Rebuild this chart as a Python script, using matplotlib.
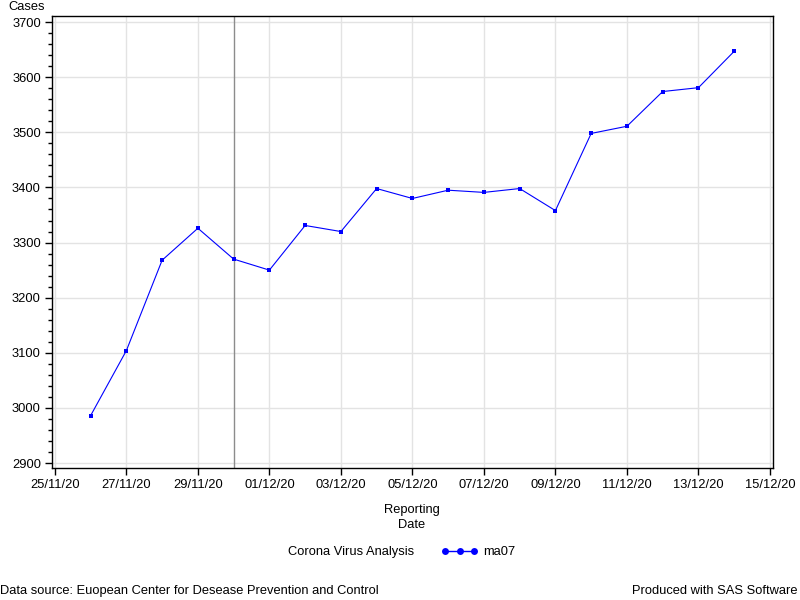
"""
Corona virus 7-day moving average chart (SAS style)
"""
import datetime as dt
import matplotlib
matplotlib.use('Agg')
import matplotlib.pyplot as plt
import matplotlib.dates as mdates
from matplotlib.lines import Line2D
from matplotlib.ticker import MultipleLocator

plt.rcParams['font.family'] = ['Liberation Sans', 'DejaVu Sans']
FS = 9.3

# Data
report_dates = ['26/11/20', '27/11/20', '28/11/20', '29/11/20', '30/11/20',
                '01/12/20', '02/12/20', '03/12/20', '04/12/20', '05/12/20',
                '06/12/20', '07/12/20', '08/12/20', '09/12/20', '10/12/20',
                '11/12/20', '12/12/20', '13/12/20', '14/12/20']
ma07 = [2986, 3104, 3268, 3326, 3270, 3250, 3331, 3320, 3398, 3380,
        3395, 3391, 3398, 3358, 3498, 3511, 3574, 3581, 3647]
ref_date = '30/11/20'
x_start = '25/11/20'
x_end = '15/12/20'

def to_date(s):
    return dt.datetime.strptime(s, '%d/%m/%y')

dates = [to_date(s) for s in report_dates]

fig = plt.figure(figsize=(8, 6), dpi=100)
ax = fig.add_axes([0.065, 0.22, 0.901, 0.7533])

# Grid i referentna linija
ax.grid(True, color='#e3e3e3', linewidth=1)
ax.set_axisbelow(True)
ax.axvline(to_date(ref_date), color='#8c8c8c', linewidth=1, zorder=1)

ax.plot(dates, ma07, color='#0000ff', linewidth=0.8, marker='s',
        markersize=2.4, markeredgewidth=0, zorder=3)

# Ose
ax.set_xlim(to_date(x_start) - dt.timedelta(days=0.08),
            to_date(x_end) + dt.timedelta(days=0.08))
ax.set_ylim(2891, 3711)
ax.xaxis.set_major_locator(mdates.DayLocator(bymonthday=[1, 3, 5, 7, 9, 11, 13, 15,
                                                         25, 27, 29]))
ax.xaxis.set_major_formatter(mdates.DateFormatter('%d/%m/%y'))
ax.yaxis.set_major_locator(MultipleLocator(100))
ax.yaxis.set_minor_locator(MultipleLocator(20))
ax.tick_params(axis='both', which='major', labelsize=FS, length=5, width=1,
               color='black', pad=3)
ax.tick_params(axis='y', which='minor', length=3, width=1)
for sp in ax.spines.values():
    sp.set_linewidth(1)

fig.text(0.01, 0.999, 'Cases', fontsize=FS, va='top', ha='left')
fig.text(0.515, 0.16, 'Reporting\nDate', fontsize=FS, va='top', ha='center',
         linespacing=1.35)

# Legenda
fig.text(0.36, 0.08, 'Corona Virus Analysis', fontsize=FS, va='center', ha='left')
handle = Line2D([], [], color='#0000ff', linewidth=1, marker='o',
                markersize=5, markeredgewidth=0)
fig.legend([handle], ['ma07'], loc='center left', bbox_to_anchor=(0.551, 0.08),
           frameon=False, numpoints=3, handlelength=2.9, handletextpad=0.4,
           fontsize=FS, borderaxespad=0, borderpad=0)

fig.text(0.0, 0.015, 'Data source: Euopean Center for Desease Prevention and Control',
         fontsize=FS, va='center', ha='left')
fig.text(0.997, 0.015, 'Produced with SAS Software', fontsize=FS, va='center',
         ha='right')

fig.savefig('out.png', dpi=100)
